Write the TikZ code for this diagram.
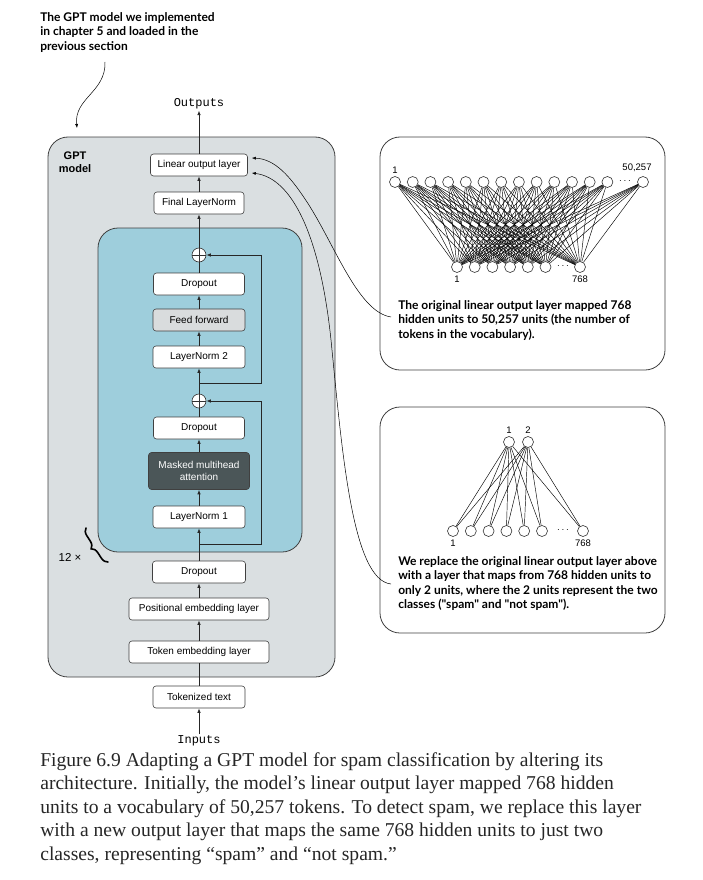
\documentclass[tikz,border=0pt]{standalone}
\usepackage{fontspec}
\setmainfont{Liberation Serif}
\setsansfont{Liberation Sans}
\setmonofont{Liberation Mono}
\newfontfamily\notefont{Lato}
\usepackage{tikz}
\usetikzlibrary{calc}
\usetikzlibrary{arrows.meta,shapes}
\usetikzlibrary{positioning}
\usetikzlibrary{decorations.pathreplacing}
\definecolor{gptgrey}{RGB}{218,223,225}
\definecolor{blockblue}{RGB}{158,206,220}
\definecolor{ffgrey}{RGB}{217,220,221}
\definecolor{attdark}{RGB}{75,86,88}
\tikzstyle{layer}=[draw=black!75, fill=white, rounded corners=3pt, minimum height=22pt,
                   inner sep=2pt, font=\sffamily\fontsize{10}{11.5}\selectfont]
\tikzstyle{adder}=[circle, draw=black!80, fill=white, minimum size=14pt, inner sep=0pt,
                   path picture={\draw[line width=0.6pt]
                     (path picture bounding box.north) -- (path picture bounding box.south)
                     (path picture bounding box.west) -- (path picture bounding box.east);}]
\tikzstyle{flow}=[-{Latex[length=4.5pt,width=3.5pt]}, line width=0.8pt, draw=black!85]
\tikzstyle{pointer}=[-{Latex[length=4pt,width=3pt]}, line width=0.5pt]
\tikzstyle{unit}=[circle, draw=black!80, fill=white, minimum size=11pt, inner sep=0pt]
\tikzstyle{wire}=[line width=0.45pt]
\tikzstyle{panel}=[draw=black!75, line width=0.8pt, rounded corners=20pt]
\tikzstyle{note}=[font=\notefont\bfseries\fontsize{12}{14.5}\selectfont, align=left,
                  anchor=north west, inner sep=0pt]
\tikzstyle{num}=[font=\sffamily\fontsize{9.5}{10}\selectfont, inner sep=1pt]
\tikzstyle{io}=[font=\ttfamily\fontsize{12}{14}\selectfont, inner sep=1pt]
\tikzstyle{repeat brace}=[decorate, decoration={brace,amplitude=7pt}, line width=1.6pt, line cap=round]
\begin{document}
\begin{tikzpicture}[x=1pt,y=-1pt,line width=0.6pt]
\useasboundingbox (0,0) rectangle (703,880);
% containers
\node[panel,fill=gptgrey,minimum width=287,minimum height=540] (gpt) at (191.5,407) {};
\node[panel,fill=blockblue,minimum width=204,minimum height=324] (block) at (200,390) {};
\node[panel,fill=white,minimum width=285,minimum height=233] (oldhead) at (522.5,253.5) {};
\node[panel,fill=white,minimum width=285,minimum height=226] (newhead) at (522.5,520) {};
\node at (75,162)[align=center,font=\sffamily\bfseries\fontsize{11}{13.5}\selectfont]{GPT\\model};
% layers
\node[io] (out) at (199,104) {Outputs};
\node[layer,minimum width=97] (lin) at (199,165) {Linear output layer};
\node[layer,minimum width=90] (fln) at (199,203) {Final LayerNorm};
\node[adder] (plusA) at (199,255) {};
\node[layer,minimum width=91] (dropA) at (199,284) {Dropout};
\node[layer,minimum width=92,fill=ffgrey] (ff) at (199,320) {Feed forward};
\node[layer,minimum width=92] (ln2) at (199,357) {LayerNorm 2};
\node[adder] (plusB) at (199,401) {};
\node[layer,minimum width=91] (dropB) at (199,428) {Dropout};
\node[layer,minimum width=101,minimum height=37,fill=attdark,text=white,align=center] (mha)
  at (199,471) {Masked multihead\\attention};
\node[layer,minimum width=92] (ln1) at (199,517) {LayerNorm 1};
\node[layer,minimum width=93] (drop0) at (199,572) {Dropout};
\node[layer,minimum width=140] (pos) at (199,609) {Positional embedding layer};
\node[layer,minimum width=140] (tok) at (199,652) {Token embedding layer};
\node[layer,minimum width=92] (tkt) at (199,697) {Tokenized text};
\node[io] (inp) at (199,741) {Inputs};
% main flow
\draw[flow] (inp) -- (tkt);
\draw[line width=0.8pt,draw=black!85] (tkt) -- (tok);
\draw[flow] (tok) -- (pos);
\draw[flow] (pos) -- (drop0);
\draw[flow] (drop0) -- (ln1);
\draw[flow] (ln1) -- (mha);
\draw[flow] (mha) -- (dropB);
\draw[line width=0.8pt,draw=black!85] (dropB) -- (plusB);
\draw[flow] (plusB) -- (ln2);
\draw[flow] (ln2) -- (ff);
\draw[flow] (ff) -- (dropA);
\draw[line width=0.8pt,draw=black!85] (dropA) -- (plusA);
\draw[flow] (plusA) -- (fln);
\draw[flow] (fln) -- (lin);
\draw[flow] (lin) -- (out);
% shortcuts
\coordinate (resB) at (199,544);
\coordinate (skipB) at (261,544);
\draw[flow] (resB) -- (skipB) |- (plusB.east);
\coordinate (resA) at (199,383);
\coordinate (skipA) at (261,383);
\draw[flow] (resA) -- (skipA) |- (plusA.east);
% repeat brace
\node (times) at (70,557)[font=\sffamily\fontsize{11.5}{12}\selectfont]{12 ×};
\coordinate (bracelow) at (108,562);
\coordinate (bracetop) at (86,528);
\draw[repeat brace] (bracelow) -- (bracetop);
% annotation
\node[note] (gptnote) at (40,12) {The GPT model we implemented\\in chapter 5 and loaded in the\\previous section};
\coordinate (notestart) at (105,62);
\coordinate (noteend) at (77,128);
\draw[pointer] (notestart) .. controls (106,92) and (74,98) .. (noteend);
% original head: 768 -> 50,257
\foreach \i in {0,...,12}
\node[unit] (o\i) at (395+17.7*\i,182) {};
\node[unit] (o13) at (643,182) {};
\node at (625,181) {$\cdots$};
\foreach \j in {0,...,5}
\node[unit] (h\j) at (457+17.7*\j,267) {};
\node[unit] (h6) at (580,267) {};
\node at (563,266) {$\cdots$};
\foreach \i in {0,...,13}
\foreach \j in {0,...,6}
\draw[wire] (o\i) -- (h\j);
\node[num,above=1pt of o0] {1};
\node[num] at (637,168) {50,257};
\node[num,below=2pt of h0] {1};
\node[num,below=2pt of h6] {768};
\node[note] (oldnote) at (398,300) {The original linear output layer mapped 768\\hidden units to 50,257 units (the number of\\tokens in the vocabulary).};
% new head: 768 -> 2
\node[unit] (c1) at (509,442) {};
\node[unit] (c2) at (528,442) {};
\foreach \j in {0,...,5}
\node[unit] (g\j) at (453+17.8*\j,531) {};
\node[unit] (g6) at (583,531) {};
\node at (563,530) {$\cdots$};
\foreach \c in {c1,c2}
\foreach \j in {0,...,6}
\draw[wire] (\c) -- (g\j);
\node[num,above=1pt of c1] {1};
\node[num,above=1pt of c2] {2};
\node[num,below=2pt of g0] {1};
\node[num,below=2pt of g6] {768};
\node[note] (newnote) at (398,556) {We replace the original linear output layer above\\with a layer that maps from 768 hidden units to\\only 2 units, where the 2 units represent the two\\classes ("spam" and "not spam").};
% pointers to the output layer
\coordinate (hookA) at (391,317);
\draw[pointer] (hookA) .. controls (358,312) and (335,245) .. (307,202)
  .. controls (290,176) and (275,159) .. ([xshift=4pt,yshift=7pt]lin.east);
\coordinate (hookB) at (391,584);
\draw[pointer] (hookB) .. controls (352,580) and (342,450) .. (331,340)
  .. controls (320,235) and (292,178) .. ([xshift=4pt,yshift=-8pt]lin.east);
% caption
\node[anchor=north west,inner sep=0pt,align=left,text=black!85,
      font=\rmfamily\fontsize{19.6}{23.5}\selectfont] (caption) at (40,752)
  {Figure 6.9 Adapting a GPT model for spam classification by altering its\\
   architecture. Initially, the model’s linear output layer mapped 768 hidden\\
   units to a vocabulary of 50,257 tokens. To detect spam, we replace this layer\\
   with a new output layer that maps the same 768 hidden units to just two\\
   classes, representing “spam” and “not spam.”};
\end{tikzpicture}
\end{document}
